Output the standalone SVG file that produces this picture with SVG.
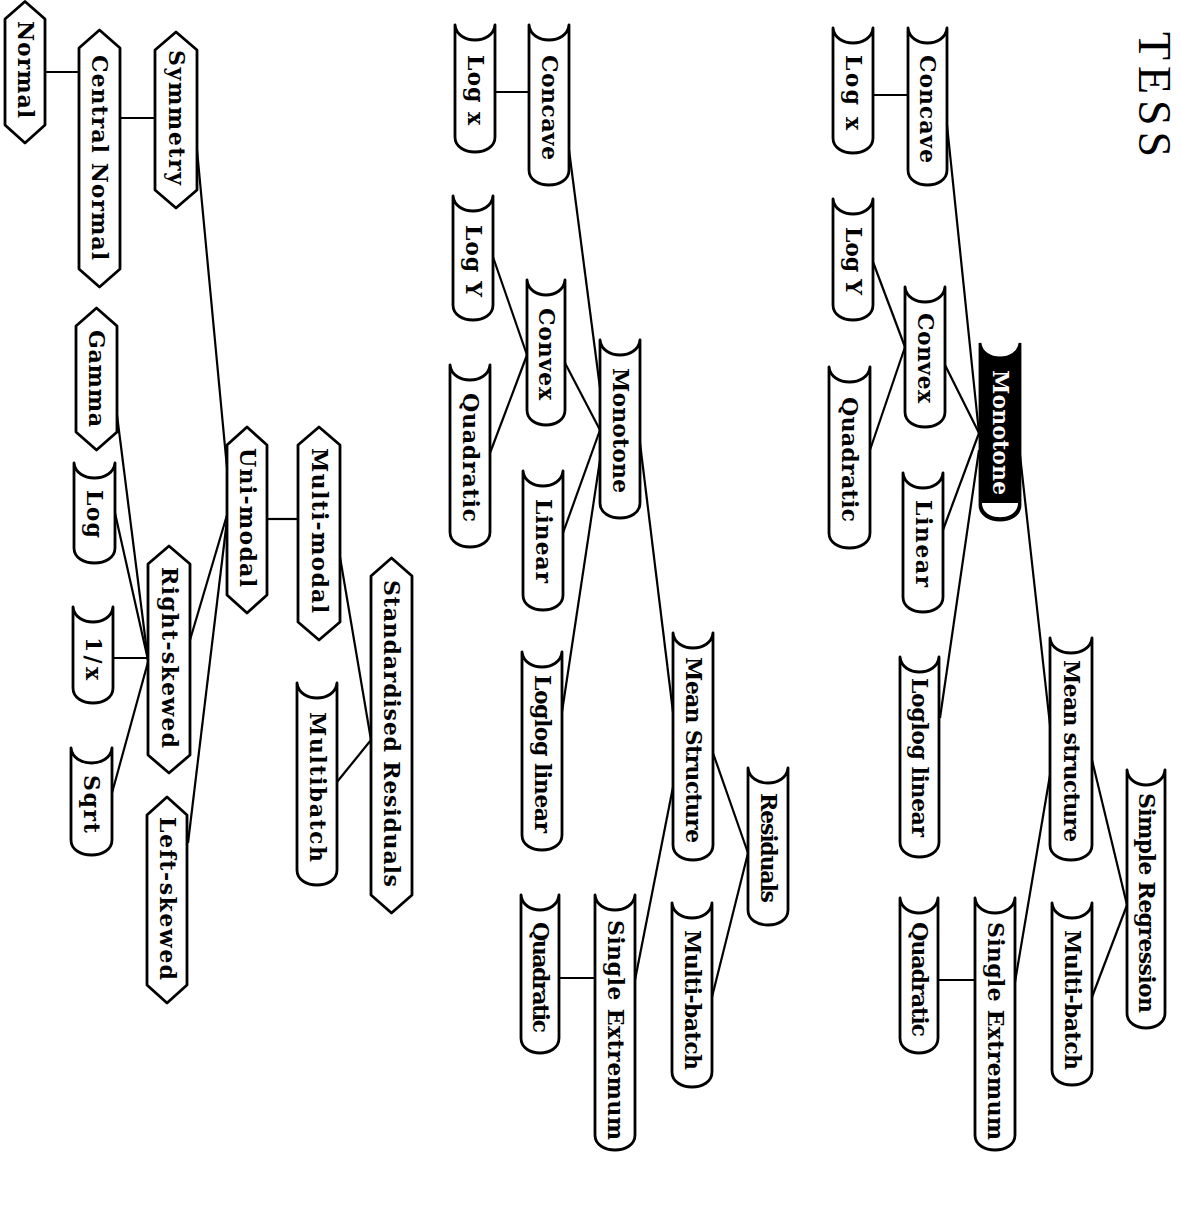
<svg xmlns="http://www.w3.org/2000/svg" width="1181" height="1215" viewBox="0 0 1181 1215">
<style>
.n{fill:#fff;stroke:#000;stroke-width:2.8;stroke-linejoin:round}
.k{fill:#000;stroke:#000;stroke-width:2.8}
.t{font-family:"DejaVu Serif","Liberation Serif",serif;font-weight:bold;font-size:22px;fill:#000}
.w{fill:#fff}
#connectors line{stroke:#000;stroke-width:2.2}
</style>
<rect width="1181" height="1215" fill="#fff"/>
<g id="connectors">
<line x1="45" y1="72" x2="79" y2="72"/>
<line x1="120" y1="118" x2="155" y2="118"/>
<line x1="197" y1="150" x2="227" y2="468"/>
<line x1="267" y1="519" x2="298" y2="519"/>
<line x1="117" y1="415" x2="148" y2="660"/>
<line x1="115" y1="513" x2="148" y2="660"/>
<line x1="113" y1="658" x2="148" y2="658"/>
<line x1="112" y1="793" x2="148" y2="662"/>
<line x1="227" y1="515" x2="190" y2="640"/>
<line x1="227" y1="520" x2="188" y2="843"/>
<line x1="340" y1="557" x2="371" y2="740"/>
<line x1="337" y1="782" x2="371" y2="740"/>
<line x1="495" y1="92" x2="529" y2="92"/>
<line x1="569" y1="150" x2="600" y2="388"/>
<line x1="493" y1="257" x2="527" y2="355"/>
<line x1="490" y1="453" x2="527" y2="355"/>
<line x1="565" y1="363" x2="600" y2="430"/>
<line x1="563" y1="533" x2="600" y2="430"/>
<line x1="562" y1="712" x2="600" y2="460"/>
<line x1="640" y1="443" x2="673" y2="712"/>
<line x1="713" y1="753" x2="748" y2="853"/>
<line x1="712" y1="997" x2="748" y2="853"/>
<line x1="673" y1="787" x2="635" y2="980"/>
<line x1="559" y1="978" x2="595" y2="978"/>
<line x1="873" y1="95" x2="908" y2="95"/>
<line x1="947" y1="125" x2="979" y2="433"/>
<line x1="873" y1="262" x2="905" y2="347"/>
<line x1="870" y1="450" x2="905" y2="347"/>
<line x1="945" y1="365" x2="979" y2="433"/>
<line x1="943" y1="530" x2="979" y2="433"/>
<line x1="940" y1="718" x2="979" y2="450"/>
<line x1="1020" y1="455" x2="1050" y2="725"/>
<line x1="1092" y1="760" x2="1127" y2="905"/>
<line x1="1092" y1="997" x2="1127" y2="905"/>
<line x1="1050" y1="775" x2="1014" y2="988"/>
<line x1="939" y1="980" x2="975" y2="980"/>
</g>

<g id="n-normal"><path class="n" d="M25,1.5 L45,19 L45,125 L25,143 L5,125 L5,19 Z"/><text class="t" transform="translate(17.5,21) rotate(90)" textLength="97">Normal</text></g>
<g id="n-central-normal"><path class="n" d="M99.5,30 L120,48 L120,269 L99.5,287 L79,269 L79,48 Z"/><text class="t" transform="translate(92,55) rotate(90)" textLength="205">Central Normal</text></g>
<g id="n-symmetry"><path class="n" d="M176,32 L197,50 L197,190 L176,208 L155,190 L155,50 Z"/><text class="t" transform="translate(168.5,50) rotate(90)" textLength="135">Symmetry</text></g>
<g id="n-gamma"><path class="n" d="M96.5,308 L117,326 L117,432 L96.5,450 L76,432 L76,326 Z"/><text class="t" transform="translate(89,330) rotate(90)" textLength="97">Gamma</text></g>
<g id="n-log"><path class="n" d="M74,463 L74,548 C74,568 115,568 115,548 L115,463 C113,483 76,483 74,463 Z"/><text class="t" transform="translate(87,490) rotate(90)" textLength="48">Log</text></g>
<g id="n-unimodal"><path class="n" d="M247,427 L267,445 L267,595 L247,613 L227,595 L227,445 Z"/><text class="t" transform="translate(239.5,448) rotate(90)" textLength="139">Uni-modal</text></g>
<g id="n-multimodal"><path class="n" d="M319,427 L340,445 L340,622 L319,640 L298,622 L298,445 Z"/><text class="t" transform="translate(311.5,448) rotate(90)" textLength="165">Multi-modal</text></g>
<g id="n-right-skewed"><path class="n" d="M169,546 L190,564 L190,755 L169,773 L148,755 L148,564 Z"/><text class="t" transform="translate(161.5,567) rotate(90)" textLength="181">Right-skewed</text></g>
<g id="n-std-residuals"><path class="n" d="M391.5,558 L412,576 L412,895 L391.5,913 L371,895 L371,576 Z"/><text class="t" transform="translate(384,580) rotate(90)" textLength="307">Standardised Residuals</text></g>
<g id="n-1x"><path class="n" d="M73,607 L73,688 C73,708 113,708 113,688 L113,607 C111,627 75,627 73,607 Z"/><text class="t" transform="translate(85.5,637) rotate(90)" textLength="43">1/x</text></g>
<g id="n-sqrt"><path class="n" d="M71,748 L71,840 C71,860 112,860 112,840 L112,748 C110,768 73,768 71,748 Z"/><text class="t" transform="translate(84,775) rotate(90)" textLength="58">Sqrt</text></g>
<g id="n-left-skewed"><path class="n" d="M167,797 L187,815 L187,985 L167,1003 L147,985 L147,815 Z"/><text class="t" transform="translate(159.5,817) rotate(90)" textLength="163">Left-skewed</text></g>
<g id="n-multibatch"><path class="n" d="M297,683 L297,870 C297,890 337,890 337,870 L337,683 C335,703 299,703 297,683 Z"/><text class="t" transform="translate(309.5,712) rotate(90)" textLength="150">Multibatch</text></g>

<g id="m-logx"><path class="n" d="M455,25 L455,137 C455,157 495,157 495,137 L495,25 C493,45 457,45 455,25 Z"/><text class="t" transform="translate(467.5,55) rotate(90)" textLength="70">Log x</text></g>
<g id="m-concave"><path class="n" d="M529,25 L529,170 C529,190 569,190 569,170 L569,25 C567,45 531,45 529,25 Z"/><text class="t" transform="translate(541.5,55) rotate(90)" textLength="105">Concave</text></g>
<g id="m-logy"><path class="n" d="M453,196 L453,305 C453,325 493,325 493,305 L493,196 C491,216 455,216 453,196 Z"/><text class="t" transform="translate(465.5,225) rotate(90)" textLength="72">Log Y</text></g>
<g id="m-convex"><path class="n" d="M527,280 L527,410 C527,430 565,430 565,410 L565,280 C563,300 529,300 527,280 Z"/><text class="t" transform="translate(538.5,308) rotate(90)" textLength="92">Convex</text></g>
<g id="m-quadratic"><path class="n" d="M450,365 L450,532 C450,552 490,552 490,532 L490,365 C488,385 452,385 450,365 Z"/><text class="t" transform="translate(462.5,393) rotate(90)" textLength="129">Quadratic</text></g>
<g id="m-monotone"><path class="n" d="M600,340 L600,503 C600,523 640,523 640,503 L640,340 C638,360 602,360 600,340 Z"/><text class="t" transform="translate(612.5,368) rotate(90)" textLength="125">Monotone</text></g>
<g id="m-linear"><path class="n" d="M523,471 L523,595 C523,615 563,615 563,595 L563,471 C561,491 525,491 523,471 Z"/><text class="t" transform="translate(535.5,499) rotate(90)" textLength="84">Linear</text></g>
<g id="m-loglog"><path class="n" d="M522,652 L522,835 C522,855 562,855 562,835 L562,652 C560,672 524,672 522,652 Z"/><text class="t" transform="translate(534.5,675) rotate(90)" textLength="158">Loglog linear</text></g>
<g id="m-mean"><path class="n" d="M673,633 L673,845 C673,865 713,865 713,845 L713,633 C711,653 675,653 673,633 Z"/><text class="t" transform="translate(685.5,657) rotate(90)" textLength="186">Mean Structure</text></g>
<g id="m-residuals"><path class="n" d="M748,768 L748,910 C748,930 788,930 788,910 L788,768 C786,788 750,788 748,768 Z"/><text class="t" transform="translate(760.5,793) rotate(90)" textLength="110">Residuals</text></g>
<g id="m-multibatch"><path class="n" d="M672,903 L672,1072 C672,1092 712,1092 712,1072 L712,903 C710,923 674,923 672,903 Z"/><text class="t" transform="translate(684.5,930) rotate(90)" textLength="140">Multi-batch</text></g>
<g id="m-single"><path class="n" d="M595,895 L595,1135 C595,1155 635,1155 635,1135 L635,895 C633,915 597,915 595,895 Z"/><text class="t" transform="translate(607.5,920) rotate(90)" textLength="220">Single Extremum</text></g>
<g id="m-quadratic2"><path class="n" d="M521,895 L521,1038 C521,1058 559,1058 559,1038 L559,895 C557,915 523,915 521,895 Z"/><text class="t" transform="translate(532.5,922) rotate(90)" textLength="111">Quadratic</text></g>

<g id="title"><text transform="translate(1139,32) rotate(90)" font-family="'Liberation Serif',serif" font-size="46" fill="#000" textLength="125">TESS</text></g>
<g id="r-logx"><path class="n" d="M833,28 L833,138 C833,158 873,158 873,138 L873,28 C871,48 835,48 833,28 Z"/><text class="t" transform="translate(845.5,55) rotate(90)" textLength="75">Log x</text></g>
<g id="r-concave"><path class="n" d="M908,28 L908,170 C908,190 947,190 947,170 L947,28 C945,48 910,48 908,28 Z"/><text class="t" transform="translate(920,55) rotate(90)" textLength="108">Concave</text></g>
<g id="r-logy"><path class="n" d="M833,199 L833,305 C833,325 873,325 873,305 L873,199 C871,219 835,219 833,199 Z"/><text class="t" transform="translate(845.5,227) rotate(90)" textLength="68">Log Y</text></g>
<g id="r-convex"><path class="n" d="M905,287 L905,412 C905,432 945,432 945,412 L945,287 C943,307 907,307 905,287 Z"/><text class="t" transform="translate(917.5,313) rotate(90)" textLength="90">Convex</text></g>
<g id="r-quadratic"><path class="n" d="M829,367 L829,533 C829,553 870,553 870,533 L870,367 C868,387 831,387 829,367 Z"/><text class="t" transform="translate(842,397) rotate(90)" textLength="125">Quadratic</text></g>
<g id="r-monotone"><path class="k" d="M980,343 L980,505 C980,525 1020,525 1020,505 L1020,343 C1018,363 982,363 980,343 Z"/><path d="M982,503 C982,522 1018,522 1018,503 Z" fill="#fff"/><text class="t w" transform="translate(992.5,370) rotate(90)" textLength="125">Monotone</text></g>
<g id="r-linear"><path class="n" d="M903,473 L903,597 C903,617 943,617 943,597 L943,473 C941,493 905,493 903,473 Z"/><text class="t" transform="translate(915.5,500) rotate(90)" textLength="87">Linear</text></g>
<g id="r-loglog"><path class="n" d="M900,657 L900,842 C900,862 939,862 939,842 L939,657 C937,677 902,677 900,657 Z"/><text class="t" transform="translate(912,678) rotate(90)" textLength="159">Loglog linear</text></g>
<g id="r-mean"><path class="n" d="M1050,638 L1050,845 C1050,865 1092,865 1092,845 L1092,638 C1090,658 1052,658 1050,638 Z"/><text class="t" transform="translate(1063.5,660) rotate(90)" textLength="182">Mean structure</text></g>
<g id="r-simplereg"><path class="n" d="M1127,770 L1127,1013 C1127,1033 1165,1033 1165,1013 L1165,770 C1163,790 1129,790 1127,770 Z"/><text class="t" transform="translate(1138.5,793) rotate(90)" textLength="220">Simple Regression</text></g>
<g id="r-multibatch"><path class="n" d="M1052,903 L1052,1070 C1052,1090 1092,1090 1092,1070 L1092,903 C1090,923 1054,923 1052,903 Z"/><text class="t" transform="translate(1064.5,930) rotate(90)" textLength="140">Multi-batch</text></g>
<g id="r-single"><path class="n" d="M975,898 L975,1135 C975,1155 1015,1155 1015,1135 L1015,898 C1013,918 977,918 975,898 Z"/><text class="t" transform="translate(987.5,922) rotate(90)" textLength="218">Single Extremum</text></g>
<g id="r-quadratic2"><path class="n" d="M900,898 L900,1038 C900,1058 938,1058 938,1038 L938,898 C936,918 902,918 900,898 Z"/><text class="t" transform="translate(911.5,922) rotate(90)" textLength="115">Quadratic</text></g>
</svg>
